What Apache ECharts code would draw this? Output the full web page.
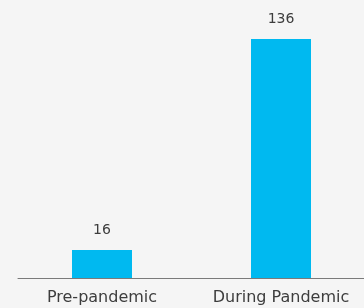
<!DOCTYPE html>
<html>
<head>
<meta charset="utf-8">
<script src="https://cdn.jsdelivr.net/npm/echarts@6/dist/echarts.min.js"></script>
<style>
  html, body { margin: 0; padding: 0; background: #f5f5f5; }
  #chart { width: 364px; height: 308px; }
</style>
</head>
<body>
<div id="chart"></div>
<script>
const BAR = "#00b9f0";
const TEXT = "#3d3d3d";
const AXIS = "#7a7a7a";
const FONT = "DejaVu Sans";

const categories = ["Pre-pandemic", "During Pandemic"];
const values = [16, 136];

const chart = echarts.init(document.getElementById("chart"), null, { renderer: "canvas" });
chart.setOption({
  backgroundColor: "#f5f5f5",
  animation: false,
  textStyle: { fontFamily: FONT },
  // first grid holds the bars, second one only draws the baseline from x=18
  grid: [
    { left: 12.5, right: -6.5, top: 39, bottom: 30, outerBoundsMode: "none" },
    { left: 18, right: 0, top: 39, bottom: 30, outerBoundsMode: "none" },
  ],
  xAxis: [
    {
      type: "category",
      data: categories,
      gridIndex: 0,
      axisLine: { show: false },
      axisTick: { show: false },
      axisLabel: { color: TEXT, fontSize: 16, margin: 12, interval: 0, fontFamily: FONT },
    },
    {
      type: "value",
      gridIndex: 1,
      axisLine: { show: true, onZero: false, lineStyle: { color: AXIS, width: 1 } },
      axisTick: { show: false },
      axisLabel: { show: false },
      splitLine: { show: false },
    },
  ],
  yAxis: [
    { type: "value", gridIndex: 0, min: 0, max: 136, show: false },
    { type: "value", gridIndex: 1, show: false },
  ],
  series: [
    {
      type: "bar",
      data: values,
      barWidth: 60,
      itemStyle: { color: BAR },
      label: {
        show: true,
        position: "top",
        distance: 13,
        color: TEXT,
        fontSize: 14,
        fontFamily: FONT,
      },
    },
  ],
});
</script>
</body>
</html>
